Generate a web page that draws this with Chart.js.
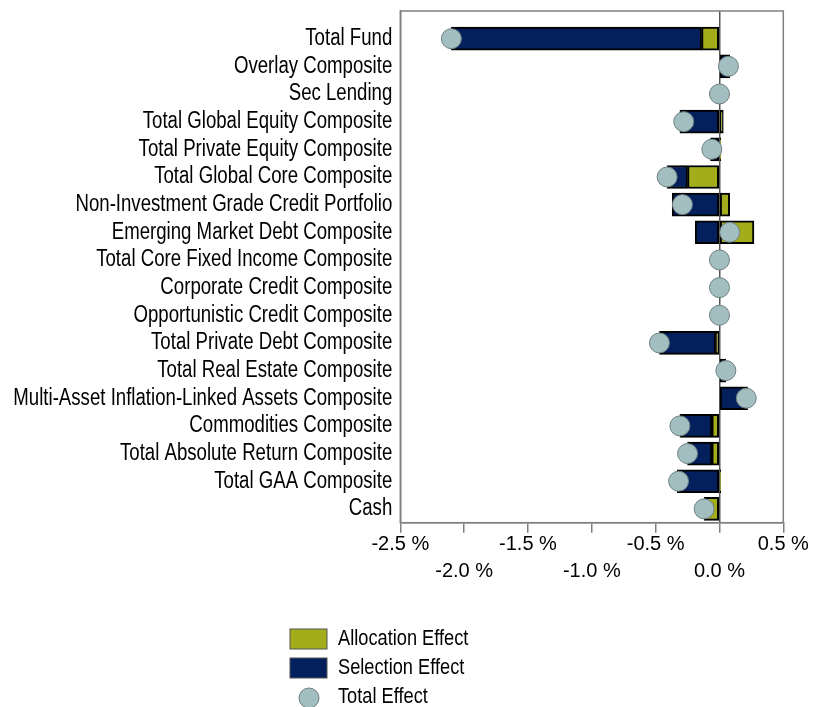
<!DOCTYPE html>
<html>
<head>
<meta charset="utf-8">
<title>Attribution Effects</title>
<script src="https://cdn.jsdelivr.net/npm/chart.js@4.4.1/dist/chart.umd.min.js"></script>
<style>
  html, body { margin: 0; padding: 0; background: #fff; }
  #wrap { width: 813px; height: 707px; }
</style>
</head>
<body>
<div id="wrap"><canvas id="chart" width="813" height="707"></canvas></div>
<script>
// composites, top to bottom
const categories = [
  "Total Fund",
  "Overlay Composite",
  "Sec Lending",
  "Total Global Equity Composite",
  "Total Private Equity Composite",
  "Total Global Core Composite",
  "Non-Investment Grade Credit Portfolio",
  "Emerging Market Debt Composite",
  "Total Core Fixed Income Composite",
  "Corporate Credit Composite",
  "Opportunistic Credit Composite",
  "Total Private Debt Composite",
  "Total Real Estate Composite",
  "Multi-Asset Inflation-Linked Assets Composite",
  "Commodities Composite",
  "Total Absolute Return Composite",
  "Total GAA Composite",
  "Cash"
];

// effects in %
const allocation = [-0.14, 0.00, 0.00, 0.03, 0.01, -0.25, 0.08, 0.27, 0.00, 0.00, 0.00, -0.03, 0.00, 0.00, -0.06, -0.06, 0.01, -0.11];
const selection  = [-1.96, 0.08, 0.00, -0.31, -0.07, -0.16, -0.37, -0.19, 0.00, 0.00, 0.00, -0.44, 0.05, 0.22, -0.25, -0.19, -0.33, -0.01];
const total      = [-2.10, 0.07, 0.00, -0.28, -0.06, -0.41, -0.29, 0.08, 0.00, 0.00, 0.00, -0.47, 0.05, 0.21, -0.31, -0.25, -0.32, -0.12];

// x axis ticks, every other one drops to a second row
const xTicks = [-2.5, -2.0, -1.5, -1.0, -0.5, 0.0, 0.5];

const FONT = "'Liberation Sans', Arial, sans-serif";
const NARROW = 0.81; // squeeze factor for the category + legend text (no narrow face installed)
const OLIVE = "#a3ad1c";
const NAVY = "#03205c";
const DOT = "#a2bec0";

const toPoints = arr => arr.map((v, i) => ({ x: v, y: i }));

// draw a scale's labels horizontally squeezed, keeping their anchor points
function condense(scale, k) {
  const draw = scale.drawLabels;
  const labelArea = scale._computeLabelArea;
  scale._computeLabelArea = function () {
    const area = labelArea.call(this);
    if (area) {
      area.left /= k;
      area.right /= k;
    }
    return area;
  };
  scale.drawLabels = function (area) {
    this.getLabelItems(area).forEach(item => {
      if (!item._squeezed) {
        item.options.translation[0] /= k;
        item._squeezed = true;
      }
    });
    const ctx = this.ctx;
    ctx.save();
    ctx.scale(k, 1);
    draw.call(this, area);
    ctx.restore();
  };
  scale._condensed = true;
}

// box around the plot + legend underneath
const frameAndLegend = {
  id: "frameAndLegend",
  beforeDraw(chart) {
    if (!chart.scales.y._condensed) condense(chart.scales.y, NARROW);
  },
  afterDraw(chart) {
    const { ctx, chartArea: a } = chart;
    ctx.save();
    ctx.strokeStyle = "#808080";
    ctx.lineWidth = 1.5;
    ctx.strokeRect(a.left, a.top, a.right - a.left, a.bottom - a.top);

    const items = [chart.data.datasets[1], chart.data.datasets[2], chart.data.datasets[0]];
    const x0 = 290, y0 = 639, step = 29;
    items.forEach((ds, i) => {
      const y = y0 + i * step;
      if (ds.type === "scatter") {
        ctx.beginPath();
        ctx.arc(x0 + 19, y + 1, 10, 0, Math.PI * 2);
        ctx.fillStyle = ds.backgroundColor;
        ctx.fill();
        ctx.lineWidth = 1;
        ctx.strokeStyle = ds.borderColor;
        ctx.stroke();
      } else {
        ctx.fillStyle = ds.backgroundColor;
        ctx.fillRect(x0, y - 10, 37, 20);
        ctx.lineWidth = 1;
        ctx.strokeStyle = "#555";
        ctx.strokeRect(x0, y - 10, 37, 20);
      }
      ctx.save();
      ctx.scale(NARROW, 1);
      ctx.font = "22.5px " + FONT;
      ctx.textBaseline = "middle";
      ctx.fillStyle = "#000";
      ctx.fillText(ds.label, (x0 + 48) / NARROW, y);
      ctx.restore();
    });
    ctx.restore();
  }
};

const config = {
  type: "bar",
  data: {
    datasets: [
      {
        type: "scatter",
        label: "Total Effect",
        data: toPoints(total),
        stack: "total",
        order: 0,
        pointRadius: 10,
        pointHoverRadius: 10,
        backgroundColor: DOT,
        borderColor: "#6e7f82",
        borderWidth: 1
      },
      {
        label: "Allocation Effect",
        data: toPoints(allocation),
        order: 1,
        backgroundColor: OLIVE,
        borderColor: "#000",
        borderWidth: 2,
        borderSkipped: false,
        barThickness: 23
      },
      {
        label: "Selection Effect",
        data: toPoints(selection),
        order: 1,
        backgroundColor: NAVY,
        borderColor: "#000",
        borderWidth: 2,
        borderSkipped: false,
        barThickness: 23
      }
    ]
  },
  options: {
    indexAxis: "y",
    responsive: false,
    animation: false,
    layout: { padding: { top: 10.7, right: 29.7, left: 0, bottom: 0 } },
    plugins: {
      legend: { display: false },
      tooltip: { enabled: false }
    },
    scales: {
      x: {
        type: "linear",
        stacked: true,
        min: -2.5,
        max: 0.5,
        afterBuildTicks: s => { s.ticks = xTicks.map(v => ({ value: v })); },
        afterFit: s => { s.height = 184.3; s.paddingLeft = 0; s.paddingRight = 0; },
        ticks: {
          padding: -2,
          color: "#000",
          font: { family: FONT, size: 20, lineHeight: 1.35 },
          maxRotation: 0,
          autoSkip: false,
          callback: (v, i) => {
            const txt = v.toFixed(1) + " %";
            return i % 2 === 0 ? txt : ["", txt];
          }
        },
        grid: {
          drawOnChartArea: true,
          color: c => (c.tick && c.tick.value === 0 ? "#555" : "rgba(0,0,0,0)"),
          lineWidth: 1.5,
          tickColor: "#808080",
          tickLength: 10
        },
        border: { color: "#808080", width: 1.5 }
      },
      y: {
        type: "linear",
        stacked: true,
        reverse: true,
        offset: false,
        grace: 0,
        min: -1,
        max: 17.5,
        afterBuildTicks: s => { s.ticks = categories.map((c, i) => ({ value: i })); },
        afterFit: s => { s.width = 400.3; s.paddingTop = 0; s.paddingBottom = 0; },
        ticks: {
          padding: 8,
          color: "#000",
          font: { family: FONT, size: 23 },
          autoSkip: false,
          callback: v => categories[v] || ""
        },
        grid: { display: false, drawTicks: false },
        border: { color: "#808080", width: 1.5 }
      }
    }
  },
  plugins: [frameAndLegend]
};

const myChart = new Chart(document.getElementById("chart"), config);
</script>
</body>
</html>
